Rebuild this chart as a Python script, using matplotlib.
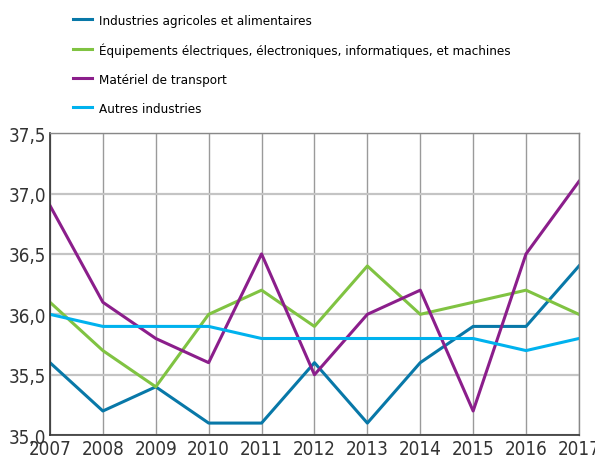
import matplotlib.pyplot as plt
from matplotlib.ticker import FuncFormatter

years = [2007, 2008, 2009, 2010, 2011, 2012, 2013, 2014, 2015, 2016, 2017]
agricoles = [35.6, 35.2, 35.4, 35.1, 35.1, 35.6, 35.1, 35.6, 35.9, 35.9, 36.4]
equipements = [36.1, 35.7, 35.4, 36.0, 36.2, 35.9, 36.4, 36.0, 36.1, 36.2, 36.0]
transport = [36.9, 36.1, 35.8, 35.6, 36.5, 35.5, 36.0, 36.2, 35.2, 36.5, 37.1]
autres = [36.0, 35.9, 35.9, 35.9, 35.8, 35.8, 35.8, 35.8, 35.8, 35.7, 35.8]

labels = ['Industries agricoles et alimentaires',
          'Équipements électriques, électroniques, informatiques, et machines',
          'Matériel de transport',
          'Autres industries']
colors = ['#0878a8', '#80c342', '#8b1e8b', '#00b2ee']

plt.rcParams['font.family'] = ['DejaVu Sans', 'Liberation Sans']
plt.rcParams['font.stretch'] = 'condensed'

fig = plt.figure(figsize=(5.95, 4.64), dpi=100)
ax = fig.add_axes([0.084, 0.060, 0.889, 0.651])

for vals, lab, col in zip([agricoles, equipements, transport, autres], labels, colors):
    ax.plot(years, vals, color=col, lw=2.2, label=lab)

ax.set_xlim(2007, 2017)
ax.set_ylim(35.0, 37.5)
ax.set_xticks(years)
ax.set_yticks([35.0, 35.5, 36.0, 36.5, 37.0, 37.5])
ax.yaxis.set_major_formatter(FuncFormatter(lambda v, p: f'{v:.1f}'.replace('.', ',')))
ax.grid(axis='x', color='#9a9a9a', lw=1.0)
ax.grid(axis='y', color='#c4c4c4', lw=1.6)
ax.set_axisbelow(True)
ax.tick_params(length=0, labelsize=13.5, colors='#333333', pad=3)
for s in ['left', 'bottom']:
    ax.spines[s].set_color('#333333')
    ax.spines[s].set_linewidth(1.2)
for s in ['top', 'right']:
    ax.spines[s].set_color('#888888')
    ax.spines[s].set_linewidth(1.0)

ax.legend(loc='upper left', bbox_to_anchor=(0.123, 0.968), bbox_transform=fig.transFigure,
          frameon=False, fontsize=9.6, handlelength=1.4, handletextpad=0.5,
          labelspacing=1.18, borderaxespad=0, borderpad=0)

fig.savefig('out.png', dpi=100)
